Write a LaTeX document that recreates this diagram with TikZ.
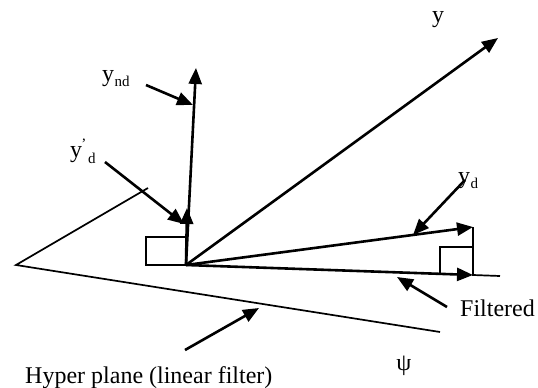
\documentclass[tikz,border=0pt]{standalone}
\usepackage{fontspec}
\setmainfont{Liberation Serif}
\usetikzlibrary{arrows.meta}
\tikzset{
  vec/.style={line width=2.6pt,-{Triangle[length=16pt,width=13pt]}},
  pointer/.style={line width=2.6pt,-{Triangle[length=16pt,width=13pt]}},
  thinline/.style={line width=1.7pt},
  lbl/.style={inner sep=0pt,font=\fontsize{24}{26}\selectfont},
  sub/.style={inner sep=0pt,font=\fontsize{15}{16}\selectfont}
}
\begin{document}
\begin{tikzpicture}[x=1pt,y=-1pt]
\useasboundingbox (0,0) rectangle (538,388);
% key points
\coordinate (O) at (186,265);
\coordinate (ytip) at (498,38);
\coordinate (yndtip) at (196,68);
\coordinate (ydptip) at (187,208);
\coordinate (ydtip) at (473,227);
\coordinate (ftip) at (473,275);
\coordinate (fend) at (500,276);
\coordinate (hpA) at (148,188);
\coordinate (hpV) at (16,265);
\coordinate (hpB) at (440,332);
\coordinate (boxC) at (440,247);
\coordinate (boxL) at (440,275);
\coordinate (rbA) at (146,237);
% hyper plane
\draw[thinline] (hpA) -- (hpV) -- (hpB);
% right-angle boxes
\draw[thinline] (rbA) rectangle (O);
\draw[thinline] (boxL) -- (boxC) -- (473,247);
\draw[thinline] (ydtip) -- (ftip) -- (fend);
% vectors
\draw[vec] (O) -- (ytip);
\draw[vec] (O) -- (yndtip);
\draw[vec] (O) -- (ydptip);
\draw[vec] (O) -- (ydtip);
\draw[vec] (O) -- (ftip);
% pointer starts and ends
\coordinate (p1s) at (146,85);  \coordinate (p1e) at (193,105);
\coordinate (p2s) at (105,162); \coordinate (p2e) at (184,224);
\coordinate (p3s) at (465,180); \coordinate (p3e) at (413,235);
\coordinate (p4s) at (447,307); \coordinate (p4e) at (397,277);
\coordinate (p5s) at (185,350); \coordinate (p5e) at (259,308);
\draw[pointer] (p1s) -- (p1e);
\draw[pointer] (p2s) -- (p2e);
\draw[pointer] (p3s) -- (p3e);
\draw[pointer] (p4s) -- (p4e);
\draw[pointer] (p5s) -- (p5e);
% labels
\node[lbl,anchor=base] (ly) at (438,23) {y};
\node[lbl,anchor=base west] (lynd) at (102,81) {y};
\node[sub,anchor=base west] (lyndsub) at (lynd.base east) [yshift=-5pt] {nd};
\node[lbl,anchor=base west] (lydp) at (70,157) {y};
\node[sub,anchor=base west] (lydpsup) at (82,140) {,};
\node[sub,anchor=base west] (lydpsub) at (88,163) {d};
\node[lbl,anchor=base west] (lyd) at (458,183) {y};
\node[sub,anchor=base west] (lydsub) at (lyd.base east) [yshift=-5pt] {d};
\node[lbl,anchor=base west] (lfilt) at (460,316) {Filtered};
\node[lbl,anchor=base] (lpsi) at (404,370) {ψ};
\node[lbl,anchor=base west] (lhp) at (25,383) {Hyper plane (linear filter)};
\end{tikzpicture}
\end{document}
